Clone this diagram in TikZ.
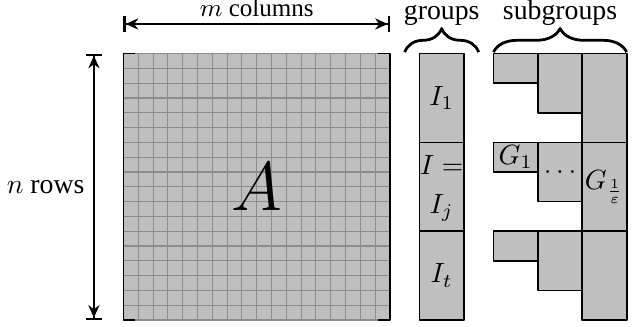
\documentclass[tikz,border=0pt]{standalone}
\usepackage[no-math]{fontspec}
\setmainfont{Liberation Serif}
\usetikzlibrary{arrows.meta,decorations.pathreplacing}
\tikzset{
	block/.style={draw=black, semithick, fill=black!25},
	gridline/.style={draw=black!45, thin},
	dimline/.style={thick, {Bar[width=5.5pt]Stealth[length=4.5pt,width=4pt]}-{Stealth[length=4.5pt,width=4pt]Bar[width=5.5pt]}},
	bracetop/.style={line width=1pt, decorate, decoration={brace, amplitude=8.5pt}},
	toplabel/.style={anchor=base, inner sep=0pt},
}
\begin{document}
\begin{tikzpicture}[x=0.1873cm, y=0.1873cm, line join=round]
	\def\n{18} \def\w{3} \def\h{6}
	\useasboundingbox (-8.345,-0.473) rectangle (34.63,21.62);
	\fill[black!25] (0,0) rectangle (\n,\n);
	\foreach \i in {0,...,\n}
	{\draw[gridline] (\i,0)--(\i,\n);
		\draw[gridline] (0,\i)--(\n,\i);}
	\draw[semithick] (0.8,\n)--(0,\n)--(0,0)--(0.8,0) (\n-0.8,\n)--(\n,\n)--(\n,0)--(\n-0.8,0);
	\node (A) at (\n/2,\n/2) {\Huge $A$};
	\coordinate (cleft) at (0,20);
	\coordinate (cright) at (\n,20);
	\coordinate (rtop) at (-2,\n);
	\coordinate (rbot) at (-2,0);
	\draw[dimline] (cleft)--(cright);
	\draw[dimline] (rtop)--(rbot);
	\node[toplabel, font=\small] (mcols) at (\n/2,20.5) {$m$ columns};
	\node[toplabel, anchor=base east] (nrows) at (-2.6,8.56) {$n$ rows};
	\foreach \y in {0,6,12}
	{\draw[block] (20,\y) rectangle (20+\w,\y+\h);
		\draw[block] (31,\y) rectangle (31+\w,\y+\h);
		\draw[block] (28,\y+2) rectangle (28+\w,\y+\h);
		\draw[block] (25,\y+4) rectangle (25+\w,\y+\h);}
	\node (I1) at (21.5,15) {$I_1$};
	\node (Ieq) at (21.5,10.45) {$I=$};
	\node (Ij) at (21.5,7.57) {$I_j$};
	\node (It) at (21.5,3) {$I_t$};
	\node (G1) at (26.5,11) {$G_1$};
	\node (Gdots) at (29.5,10) {$\dots$};
	\node (Geps) at (32.5,9) {$G_{\frac{1}{\varepsilon}}$};
	\coordinate (gl) at (19,18.1);
	\coordinate (gr) at (24,18.1);
	\coordinate (sl) at (25,18.1);
	\coordinate (sr) at (34,18.1);
	\draw[bracetop] (gl)--(gr);
	\draw[bracetop] (sl)--(sr);
	\node[toplabel] (groups) at (21.5,20.32) {groups};
	\node[toplabel] (subgroups) at (29.5,20.32) {subgroups};
\end{tikzpicture}
\end{document}
